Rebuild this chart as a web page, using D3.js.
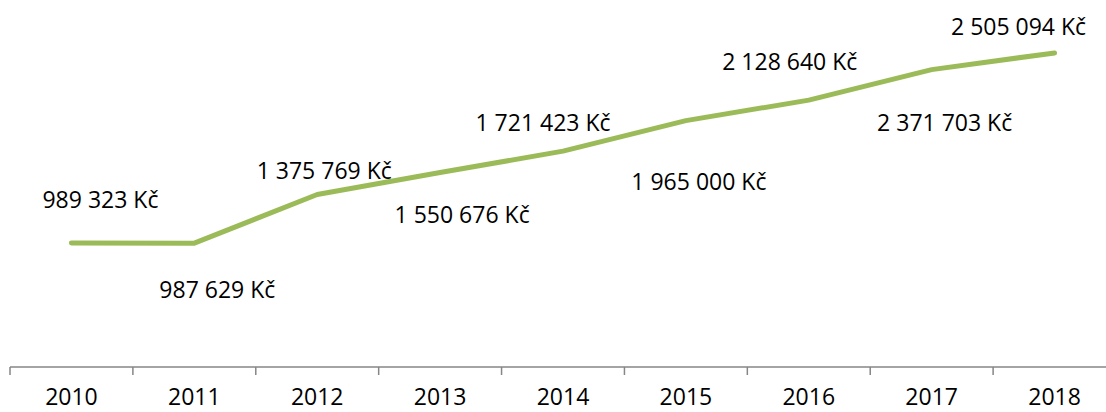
<!DOCTYPE html>
<html>
<head>
<meta charset="utf-8">
<script src="https://cdn.jsdelivr.net/npm/d3@7"></script>
<style>
  body { margin: 0; background: #fff; }
  svg text { font-family: "Open Sans", sans-serif; fill: #000; }
</style>
</head>
<body>
<svg id="svg" width="1106" height="412"></svg>
<script>
const years = ["2010", "2011", "2012", "2013", "2014", "2015", "2016", "2017", "2018"];
const values = [989323, 987629, 1375769, 1550676, 1721423, 1965000, 2128640, 2371703, 2505094];

// label offsets from each point (layout only)
const labelDx = [29, 23, 7, 22, -20, 13, -19, 13, -36];
const labelDy = [-43, 47, -24, 42, -28, 61, -38, 53, -26];

const W = 1106,
    H = 412,
    svg = d3.select("#svg"),
    x = d3.scaleBand().domain(years).range([10, 1116]).padding(0),
    y = d3.scaleLinear().domain([0, 2600000]).range([367, 41]),
    fmt = v => d3.format(",")(v).replace(/,/g, " ") + " Kč";

// axis: baseline + boundary ticks
const ax = svg.append("g").attr("transform", `translate(0, ${y(0)})`);
ax.append("line").attr("x1", x.range()[0]).attr("x2", x.range()[1])
    .style("stroke", "#868686").style("stroke-width", 1.5);
const edges = years.map(d => x(d)).concat([x(years[years.length - 1]) + x.bandwidth()]);
ax.selectAll(".tk").data(edges).join("line").attr("class", "tk")
    .attr("x1", d => d).attr("x2", d => d).attr("y1", 0).attr("y2", 8)
    .style("stroke", "#868686").style("stroke-width", 1.5);
ax.selectAll(".yl").data(years).join("text").attr("class", "yl")
    .attr("x", d => x(d) + x.bandwidth() / 2).attr("y", 38)
    .attr("text-anchor", "middle").style("font-size", "23px").text(d => d);

const cx = d => x(d) + x.bandwidth() / 2;

svg.append("path")
    .datum(values)
    .style("fill", "none").style("stroke", "#9BBB59").style("stroke-width", 5)
    .style("stroke-linecap", "round").style("stroke-linejoin", "round")
    .attr("d", d3.line().x((d, i) => cx(years[i])).y(d => y(d)));

svg.selectAll(".lbl").data(values).join("text").attr("class", "lbl")
    .attr("x", (d, i) => cx(years[i]) + labelDx[i])
    .attr("y", (d, i) => y(d) + labelDy[i])
    .attr("dy", "0.35em")
    .attr("text-anchor", "middle").style("font-size", "23px")
    .text(d => fmt(d));
</script>
</body>
</html>
